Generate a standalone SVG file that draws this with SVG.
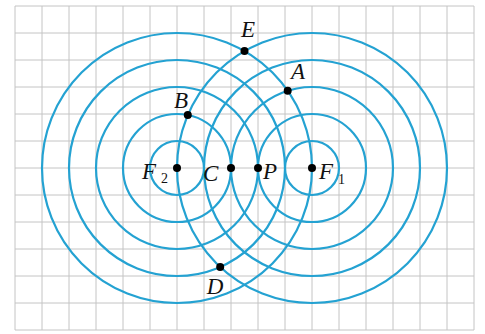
<svg xmlns="http://www.w3.org/2000/svg" width="485" height="334" viewBox="0 0 485 334">
<style>
.grid{stroke:#c4c4c4;stroke-width:1;fill:none}
.wave{stroke:#24a2d2;stroke-width:2.2;fill:none}
.dot{fill:#000}
.lbl{font-family:"Liberation Serif",serif;font-style:italic;font-size:23px;fill:#111}
.sub{font-family:"Liberation Serif",serif;font-size:14px;fill:#111}
</style>
<rect width="485" height="334" fill="#fff"/>
<g id="grid">
<path class="grid" d="M15 6V330M42 6V330M69 6V330M96 6V330M123 6V330M150 6V330M177 6V330M204 6V330M231 6V330M258 6V330M285 6V330M312 6V330M339 6V330M366 6V330M393 6V330M420 6V330M447 6V330M474 6V330
M15 6H474M15 33H474M15 60H474M15 87H474M15 114H474M15 141H474M15 168H474M15 195H474M15 222H474M15 249H474M15 276H474M15 303H474M15 330H474"/>
</g>
<g id="waves">
<g id="waves-F2">
<circle class="wave" cx="177" cy="168" r="27"/>
<circle class="wave" cx="177" cy="168" r="54"/>
<circle class="wave" cx="177" cy="168" r="81"/>
<circle class="wave" cx="177" cy="168" r="108"/>
<circle class="wave" cx="177" cy="168" r="135"/>
</g>
<g id="waves-F1">
<circle class="wave" cx="312" cy="168" r="27"/>
<circle class="wave" cx="312" cy="168" r="54"/>
<circle class="wave" cx="312" cy="168" r="81"/>
<circle class="wave" cx="312" cy="168" r="108"/>
<circle class="wave" cx="312" cy="168" r="135"/>
</g>
</g>
<g id="F2"><circle class="dot" cx="177" cy="168" r="4"/><text class="lbl" x="142" y="179">F</text><text class="sub" x="161" y="183">2</text></g>
<g id="C"><circle class="dot" cx="231" cy="168" r="4"/><text class="lbl" x="203" y="181">C</text></g>
<g id="P"><circle class="dot" cx="258" cy="168" r="4"/><text class="lbl" x="263" y="179">P</text></g>
<g id="F1"><circle class="dot" cx="312" cy="168" r="4"/><text class="lbl" x="319" y="179">F</text><text class="sub" x="338" y="184">1</text></g>
<g id="E"><circle class="dot" cx="244.5" cy="51" r="4"/><text class="lbl" x="248" y="37" text-anchor="middle">E</text></g>
<g id="A"><circle class="dot" cx="287.7" cy="90.7" r="4"/><text class="lbl" x="298" y="79" text-anchor="middle">A</text></g>
<g id="B"><circle class="dot" cx="187.8" cy="115.1" r="4"/><text class="lbl" x="181" y="108" text-anchor="middle">B</text></g>
<g id="D"><circle class="dot" cx="220.2" cy="267" r="4"/><text class="lbl" x="215" y="294" text-anchor="middle">D</text></g>
</svg>
